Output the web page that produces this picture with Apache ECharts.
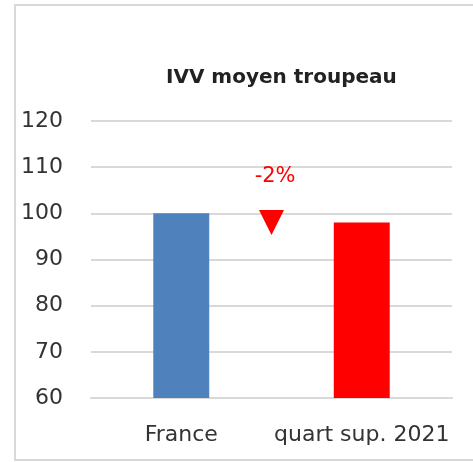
<!DOCTYPE html>
<html>
<head>
<meta charset="utf-8">
<script src="https://cdn.jsdelivr.net/npm/echarts@6/dist/echarts.min.js"></script>
<style>
  html, body { margin: 0; padding: 0; background: #fff; }
  #chart { width: 473px; height: 462px; }
</style>
</head>
<body>
<div id="chart"></div>
<script>
// données du graphique
const categories = ['France', 'quart sup. 2021'];
const ivvValues = [100, 98];
const barColors = ['#4f81bd', '#ff0000'];
const yTicks = [60, 70, 80, 90, 100, 110, 120];
const deltaLabel = '-2%';
const deltaPos = [0.5, 98];   // flèche entre les deux barres
const deltaTextPos = [0.52, 108];

const chart = echarts.init(document.getElementById('chart'));
const font = '"DejaVu Sans", sans-serif';

chart.setOption({
    animation: false,
    textStyle: { fontFamily: font },
    graphic: [
        {
            type: 'rect',
            shape: { x: 15, y: 5, width: 470, height: 455 },
            style: { fill: 'none', stroke: '#d9d9d9', lineWidth: 2 }
        }
    ],
    title: {
        text: 'IVV moyen troupeau',
        left: 161,
        top: 63,
        textStyle: { fontSize: 20, fontWeight: 'bold', color: '#222', fontFamily: font }
    },
    grid: { left: 91, right: 21, top: 121, bottom: 64 },
    xAxis: [
        {
            type: 'category',
            data: categories,
            axisLine: { lineStyle: { color: '#d9d9d9', width: 2 } },
            axisTick: { show: false },
            axisLabel: { fontSize: 22, color: '#333', margin: 26, interval: 0, hideOverlap: false }
        },
        {
            type: 'value',
            min: -0.5,
            max: 1.5,
            show: false
        }
    ],
    yAxis: {
        type: 'value',
        min: yTicks[0],
        max: yTicks[yTicks.length - 1],
        interval: 10,
        axisLine: { show: false },
        axisTick: { show: false },
        axisLabel: { fontSize: 22, color: '#333', margin: 28 },
        splitLine: { lineStyle: { color: '#d9d9d9', width: 2 } }
    },
    series: [
        {
            type: 'bar',
            barWidth: '31%',
            data: ivvValues.map((v, i) => ({ value: v, itemStyle: { color: barColors[i] } }))
        },
        {
            type: 'scatter',
            xAxisIndex: 1,
            symbol: 'triangle',
            symbolSize: [25, 25],
            symbolRotate: 180,
            itemStyle: { color: '#ff0000', opacity: 1 },
            data: [deltaPos]
        },
        {
            type: 'scatter',
            xAxisIndex: 1,
            symbolSize: 0,
            itemStyle: { opacity: 1 },
            label: {
                show: true,
                position: 'inside',
                formatter: deltaLabel,
                color: '#ff0000',
                fontSize: 21
            },
            data: [deltaTextPos]
        }
    ]
});
</script>
</body>
</html>
